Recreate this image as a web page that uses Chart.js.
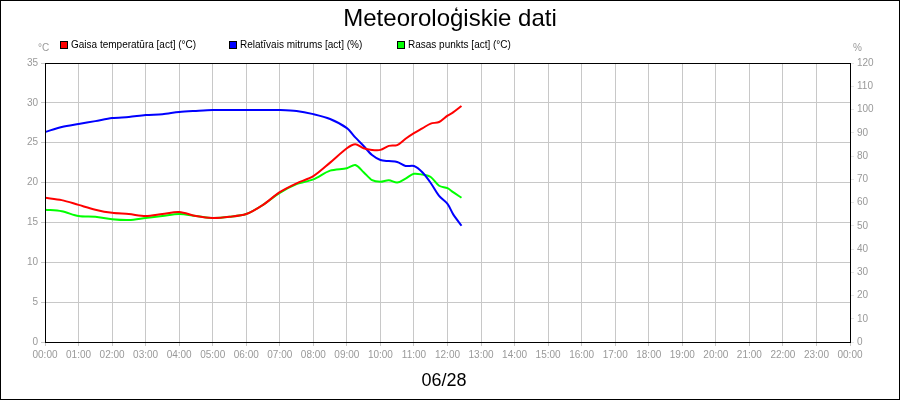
<!DOCTYPE html>
<html><head><meta charset="utf-8">
<script src="https://cdn.jsdelivr.net/npm/chart.js@4"></script>
<style>html,body{margin:0;padding:0;background:#fff}#w{width:898px;height:398px;border:1px solid #000;position:relative}canvas{display:block}</style>
</head><body><div id="w"><canvas id="c" width="898" height="398"></canvas></div>
<script>
const times=[0,30,60,90,120,150,180,210,240,270,300,330,360,390,420,450,480,510,540,555,570,585,600,615,630,645,660,675,690,705,720,730,745];
const temp=[18.1,17.8,17.2,16.6,16.2,16.05,15.8,16.05,16.3,15.8,15.55,15.7,16.05,17.2,18.8,19.9,20.8,22.5,24.3,24.8,24.3,24.1,24.1,24.6,24.7,25.5,26.2,26.8,27.4,27.6,28.4,28.8,29.6];
const humidity=[90.3,92.5,93.8,95,96.3,96.8,97.6,98,98.9,99.4,99.8,99.8,99.8,99.8,99.8,99.4,98,95.9,92,88,84.3,80.4,78.3,77.8,77.4,75.7,75.7,73,68.4,62.8,59.4,55,50];
const dew=[16.6,16.4,15.8,15.7,15.4,15.3,15.55,15.8,16.05,15.8,15.55,15.7,16.05,17.2,18.7,19.8,20.4,21.5,21.8,22.2,21.3,20.3,20.1,20.3,20,20.5,21.1,21,20.7,19.6,19.3,18.8,18.1];
const labels=['Gaisa temperatūra [act] (°C)','Relatīvais mitrums [act] (%)','Rasas punkts [act] (°C)'];
const colors=['#ff0000','#0000ff','#00ff00'];
const title='Meteoroloģiskie dati', dateLabel='06/28';
const pts=a=>a.map((v,i)=>({x:times[i],y:v}));
const deco={id:'deco',afterDraw(ch){const c=ch.ctx;c.save();c.fillStyle='#000';c.textBaseline='middle';
c.font='24px "Liberation Sans"';c.textAlign='center';c.fillText(title,449,18);
c.font='18px "Liberation Sans"';c.fillText(dateLabel,443,380);
c.font='10px "Liberation Sans"';c.textAlign='left';
const lx=[59,228,396];labels.forEach((l,i)=>{c.fillStyle=colors[i];c.fillRect(lx[i],40,8,8);c.strokeStyle='#000';c.lineWidth=1;c.strokeRect(lx[i]+0.5,40.5,7,7);c.fillStyle='#000';c.fillText(l,lx[i]+11,44.5);});
c.fillStyle='#999';c.fillText('°C',37,47);c.fillText('%',852,47);
const a=ch.chartArea;c.strokeStyle='#000';c.lineWidth=1;c.strokeRect(a.left+0.5,a.top+0.5,a.right-a.left,a.bottom-a.top);c.restore();}};
new Chart(document.getElementById('c'),{type:'line',
data:{datasets:[
{label:labels[0],data:pts(temp),borderColor:colors[0],yAxisID:'y'},
{label:labels[1],data:pts(humidity),borderColor:colors[1],yAxisID:'y1'},
{label:labels[2],data:pts(dew),borderColor:colors[2],yAxisID:'y'}]},
options:{responsive:false,animation:false,layout:{padding:{top:62,left:0,right:0,bottom:0}},
elements:{point:{radius:0},line:{borderWidth:2,tension:0.3}},
plugins:{legend:{display:false},title:{display:false},tooltip:{enabled:false}},
scales:{
x:{type:'linear',min:0,max:1440,afterFit(s){s.height=57;},ticks:{stepSize:60,autoSkip:false,maxRotation:0,color:'#999',font:{size:10,family:'Liberation Sans'},callback:v=>String(Math.floor(v/60)%24).padStart(2,'0')+':00'},grid:{color:'#c8c8c8',drawTicks:true,tickLength:4},border:{display:false}},
y:{position:'left',min:0,max:35,afterFit(s){s.width=44;},ticks:{stepSize:5,color:'#999',font:{size:10,family:'Liberation Sans'}},grid:{color:'#c8c8c8',tickLength:4},border:{display:false}},
y1:{position:'right',min:0,max:120,afterFit(s){s.width=49;},ticks:{stepSize:10,color:'#999',font:{size:10,family:'Liberation Sans'}},grid:{drawOnChartArea:false,tickLength:4},border:{display:false}}}},
plugins:[deco]});
</script></body></html>
